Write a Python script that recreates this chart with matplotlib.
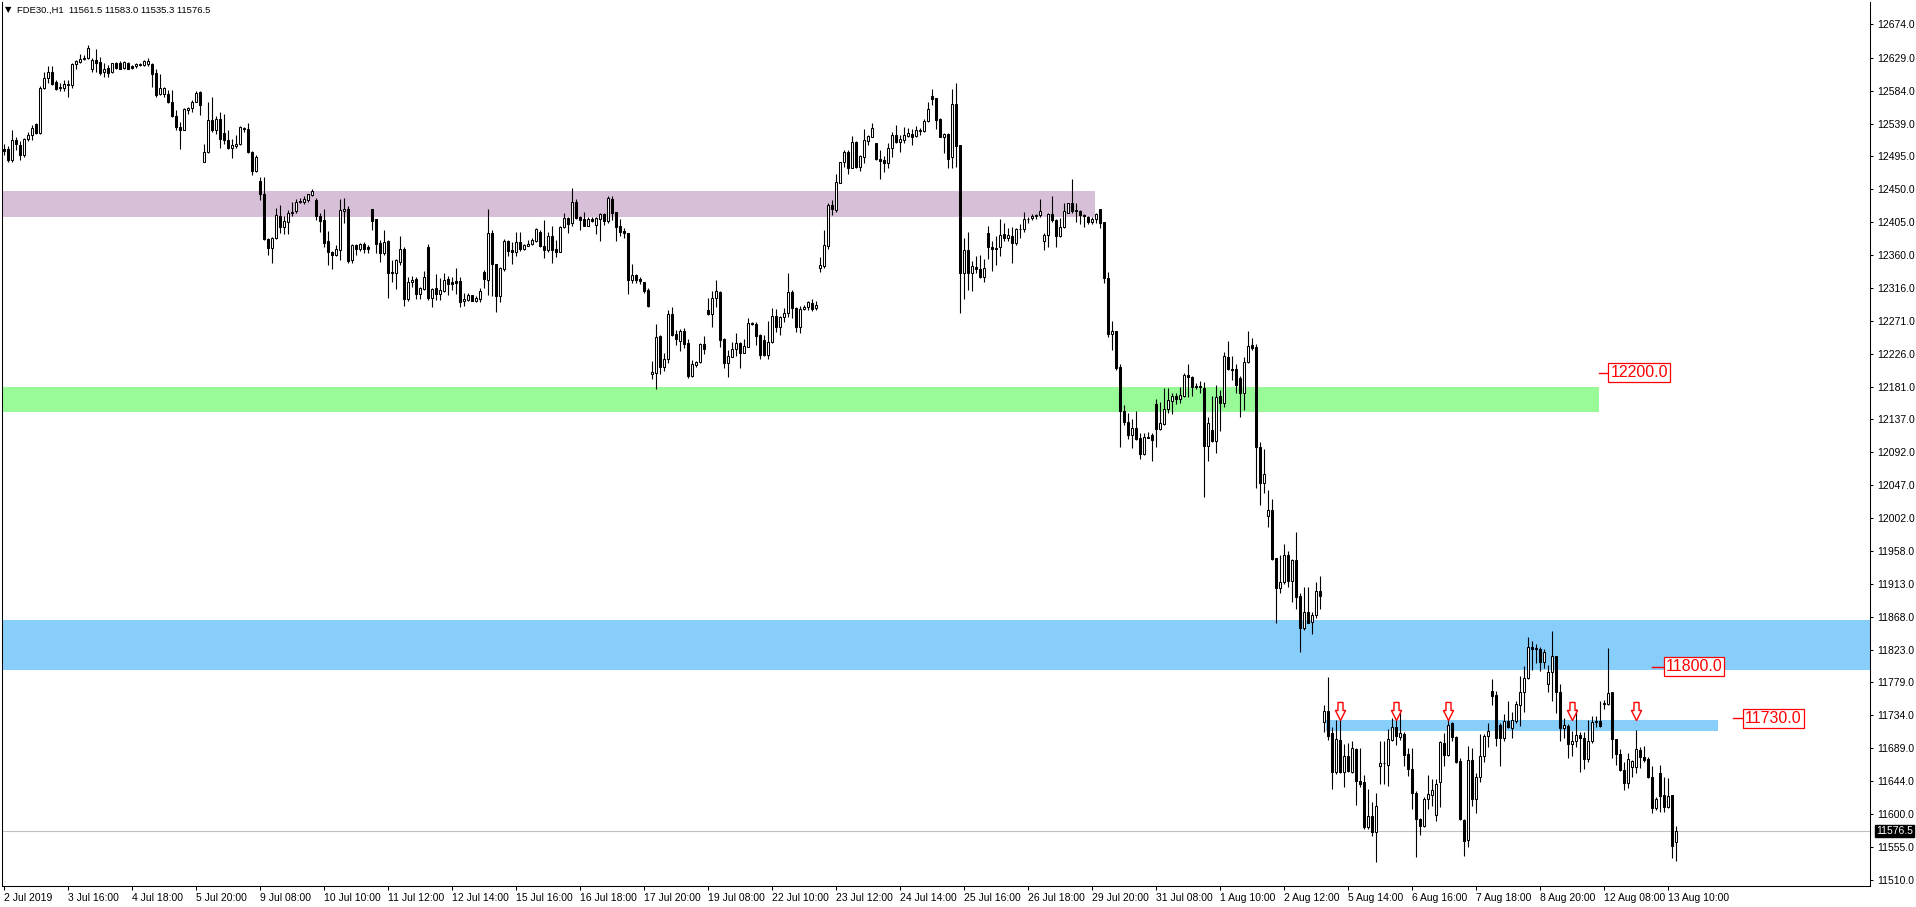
import numpy as np
import matplotlib.pyplot as plt
from matplotlib.path import Path
from matplotlib.patches import Rectangle
import matplotlib.transforms as mtransforms

# FDE30 H1 candles (2 Jul 14:00 .. 13 Aug 12:00)
opens = [
    12504, 12505, 12489, 12517, 12510, 12497, 12518, 12523, 12538, 12527,
    12588, 12601, 12609, 12596, 12589, 12588, 12591, 12591, 12620, 12623,
    12627, 12628, 12614, 12626, 12623, 12610, 12615, 12609, 12621, 12621,
    12615, 12622, 12617, 12617, 12619, 12619, 12620, 12620, 12608, 12579,
    12580, 12580, 12569, 12549, 12534, 12531, 12558, 12560, 12569, 12582,
    12487, 12500, 12544, 12530, 12545, 12526, 12517, 12506, 12509, 12512,
    12532, 12532, 12501, 12474, 12461, 12443, 12382, 12370, 12383, 12413,
    12399, 12405, 12419, 12420, 12434, 12432, 12435, 12442, 12435, 12413,
    12408, 12379, 12364, 12361, 12367, 12420, 12423, 12353, 12374, 12369,
    12376, 12371, 12423, 12409, 12377, 12363.5, 12380, 12337, 12336, 12351,
    12369, 12300.5, 12324, 12328, 12307, 12314, 12371, 12302, 12315, 12307,
    12312, 12327.7, 12323, 12324.5, 12324.5, 12298, 12299, 12306, 12298, 12301,
    12337, 12327, 12390, 12348, 12305, 12341, 12379, 12367, 12364, 12378.5,
    12368.5, 12373, 12375, 12380, 12391, 12372.6, 12367, 12386, 12368.5, 12365,
    12398, 12410.7, 12403.4, 12432, 12412, 12409, 12400, 12409, 12401, 12409,
    12415.7, 12407, 12436.5, 12418.4, 12400, 12393, 12390.7, 12326, 12333, 12327.3,
    12324, 12313, 12198, 12200.3, 12250.2, 12207.6, 12218.5, 12279.7, 12252.5, 12243.9,
    12257, 12240.2, 12196.2, 12210.8, 12214.4, 12238.9, 12285.6, 12279.7, 12301.5, 12310.5,
    12246.1, 12213.9, 12222.1, 12232.1, 12240.2, 12227.5, 12235.7, 12267.4, 12266.5, 12251.6,
    12244.8, 12224.4, 12241.6, 12277.4, 12262.9, 12275.6, 12281, 12309.6, 12287.9, 12262.9,
    12286.5, 12289.2, 12294.6, 12287.9, 12342.3, 12345.9, 12373.1, 12428.4, 12421.6, 12458.8,
    12486.5, 12501, 12479.2, 12514.6, 12480.6, 12494.2, 12516, 12521.4, 12512.3, 12491,
    12489.7, 12485.1, 12505.5, 12523.7, 12514.6, 12516.9, 12522.8, 12525, 12522.3, 12529.6,
    12529.6, 12542.7, 12576.7, 12573.5, 12545.4, 12521.4, 12525, 12493.3, 12565.8, 12510.1,
    12335.4, 12367.2, 12335.4, 12343.6, 12341.3, 12330.9, 12389.8, 12371.7, 12369.4, 12370.8,
    12388.5, 12383, 12386.2, 12377.1, 12395.3, 12395.3, 12408.9, 12410.2, 12413.4, 12414.3,
    12379.4, 12387.6, 12415.7, 12408, 12386.7, 12398, 12418, 12430.7, 12421.1, 12419.8,
    12414.3, 12411.6, 12404.8, 12408.9, 12422.5, 12405.7, 12329.5, 12252.9, 12256.9, 12208.4,
    12148.6, 12133.6, 12115.5, 12125.4, 12111.8, 12089.6, 12111.8, 12115.5, 12157.2, 12123.2,
    12130.4, 12150.4, 12162.2, 12168.5, 12164.9, 12168.5, 12197.1, 12194.8, 12182.1, 12182.1,
    12178.9, 12100.5, 12122.3, 12107.8, 12168.5, 12159.5, 12221.1, 12204.8, 12204.8, 12192.6,
    12173.1, 12214.3, 12237.9, 12235.6, 12099.6, 12050.6, 12005.7, 12013.4, 11947.7, 11906.9,
    11914.8, 11952.2, 11917.2, 11945.4, 11896.4, 11853.1, 11874.5, 11861.4, 11871.1, 11902.7,
    11725.3, 11739.9, 11709.3, 11657.3, 11701, 11657.3, 11678.2, 11657.3, 11687.9, 11645.1,
    11642.7, 11581.9, 11596.5, 11574.6, 11664.6, 11668.5, 11667, 11701, 11718, 11704.9,
    11708.3, 11681.6, 11660.7, 11628.1, 11592.6, 11582.9, 11619.9, 11625.7, 11598.9, 11642.7,
    11696.2, 11680.1, 11723.9, 11704.4, 11671.9, 11591.6, 11565, 11672.8, 11619.9, 11650,
    11679.2, 11705.9, 11766.6, 11761.7, 11720.5, 11702.5, 11726.8, 11717.1, 11726.8, 11748.2,
    11765.6, 11785.1, 11827.4, 11825.9, 11824.9, 11806.5, 11777.3, 11793.4, 11814.2, 11765.6,
    11717.1, 11719, 11694.7, 11698.6, 11707.3, 11703.5, 11674.3, 11698.6, 11725.3, 11726.3,
    11749.1, 11749.6, 11765.3, 11701.4, 11681, 11659.6, 11641.5, 11664.2, 11663.3, 11686.9,
    11677.8, 11674.2, 11650.6, 11607.5, 11655.1, 11625.6, 11609.8, 11625.6, 11561.5,
]
highs = [
    12512, 12508, 12530, 12521, 12515, 12520, 12528, 12537, 12540, 12590,
    12610, 12618, 12618, 12598, 12595, 12599, 12599, 12622, 12626, 12634,
    12632, 12646, 12628, 12641, 12630, 12621, 12619, 12622, 12623, 12625,
    12624, 12623, 12619, 12621, 12622, 12626, 12629, 12622, 12613, 12607,
    12589, 12585, 12585, 12558, 12542, 12560, 12562, 12571, 12584, 12583,
    12511, 12569, 12575, 12549, 12555, 12552, 12531, 12518, 12524, 12536,
    12535, 12540, 12502, 12497, 12467, 12467, 12383, 12385, 12424, 12428,
    12413, 12421, 12432, 12436, 12438, 12440, 12444, 12450, 12438, 12418,
    12422.5, 12393, 12366, 12374, 12436.5, 12437.5, 12427, 12376, 12376, 12377,
    12378.5, 12374, 12423, 12410, 12381, 12394.4, 12381, 12354, 12354.5, 12386,
    12371, 12331, 12332, 12330, 12317, 12338, 12375, 12315, 12334.5, 12329,
    12336, 12332, 12331, 12342, 12330, 12308, 12308, 12306, 12305, 12316,
    12340, 12422.5, 12395, 12348, 12343.6, 12381.7, 12381, 12378.5, 12392, 12392,
    12376, 12381, 12383, 12396.6, 12394, 12408, 12392, 12400, 12381, 12400,
    12417, 12412.5, 12451, 12436, 12413.4, 12418.4, 12412.5, 12412.5, 12412.5, 12417,
    12417, 12440, 12440.6, 12418.4, 12410, 12397.5, 12390.7, 12348, 12334.5, 12330,
    12324, 12315, 12216.2, 12266.5, 12251.6, 12227.5, 12285.6, 12289.2, 12258, 12260.2,
    12261.5, 12245.7, 12217.5, 12216.6, 12240.2, 12250.2, 12301.5, 12311.9, 12326.4, 12311.9,
    12247, 12231.2, 12242.5, 12253.9, 12242.5, 12245.7, 12274.2, 12268.8, 12269.7, 12252.5,
    12251.6, 12271.1, 12287.9, 12286.5, 12277.4, 12287.9, 12336.4, 12312.8, 12289.2, 12291,
    12292.4, 12298.3, 12300.1, 12298.3, 12358.1, 12394.4, 12430.7, 12435.2, 12470.6, 12487.4,
    12503.3, 12503.3, 12522.3, 12515.5, 12496.5, 12531.4, 12523.7, 12540.4, 12513.2, 12503.3,
    12495.1, 12512.3, 12528.2, 12537.3, 12523.7, 12535, 12532.7, 12531.4, 12535.9, 12532.7,
    12545, 12568.1, 12585.8, 12574.4, 12546.3, 12526.8, 12525.9, 12585.8, 12594, 12510.1,
    12383, 12392.1, 12352.6, 12359, 12360.4, 12354.5, 12399.8, 12379.9, 12386.2, 12408.9,
    12403.4, 12396.6, 12398, 12397.5, 12402.5, 12418.4, 12412.5, 12416.1, 12416.1, 12436.1,
    12389.8, 12418, 12440.6, 12409.3, 12410.2, 12430.7, 12431.6, 12463.3, 12430.7, 12421.6,
    12416.1, 12413.4, 12412.5, 12418, 12422.5, 12405.7, 12337.7, 12271, 12257.4, 12212.1,
    12156.3, 12144.9, 12136.8, 12148.6, 12117.7, 12117.7, 12120, 12117.7, 12164, 12160.8,
    12178.9, 12178.9, 12173.1, 12173.1, 12181.2, 12200.3, 12212.1, 12195.7, 12185.8, 12189.4,
    12188, 12140.4, 12168.5, 12183.5, 12176.7, 12228.8, 12243.4, 12222.9, 12212.1, 12195.7,
    12222, 12256.9, 12246.9, 12239.3, 12106.4, 12096.4, 12040.6, 12027.9, 11948.6, 11952.2,
    11966.8, 11957.1, 11947.4, 11982.8, 11900.2, 11908.5, 11908.5, 11874.5, 11914.8, 11923.1,
    11748.2, 11786.1, 11718, 11727.7, 11727.7, 11694.7, 11696.2, 11699.6, 11688.9, 11689.8,
    11652.4, 11634.4, 11616, 11628.1, 11699.6, 11698.6, 11715.6, 11730.2, 11738.4, 11738.4,
    11710.7, 11689.8, 11688.9, 11631.5, 11594.1, 11623.2, 11652.4, 11647.5, 11647.5, 11698.6,
    11709.3, 11733.6, 11725.3, 11705.9, 11675.3, 11592.6, 11692.3, 11688.9, 11655.8, 11708.3,
    11708.3, 11723.9, 11783.6, 11766.6, 11723.9, 11736.5, 11753, 11738.4, 11753, 11787,
    11800.7, 11840.5, 11834.6, 11830.8, 11827.4, 11824.9, 11803.1, 11849.2, 11815.2, 11776.3,
    11730.2, 11721.9, 11713.2, 11742.3, 11710.7, 11710.7, 11727.7, 11733.6, 11732.6, 11753,
    11754.5, 11825.9, 11766, 11701.4, 11687.8, 11671, 11682.3, 11673.2, 11714.1, 11691.4,
    11692.3, 11677.8, 11665.1, 11623.4, 11666.4, 11650.6, 11648.3, 11625.6, 11583.0,
]
lows = [
    12497, 12487, 12487, 12503, 12490, 12494, 12516, 12517, 12525, 12525,
    12586, 12594, 12592, 12585, 12583, 12583, 12576, 12587, 12613, 12621,
    12626, 12627, 12610, 12610, 12605, 12603, 12602, 12608, 12613, 12613,
    12613, 12613, 12613, 12615, 12618, 12618, 12618, 12589, 12576, 12578,
    12576, 12567, 12548, 12530, 12505, 12530, 12552, 12555, 12568, 12551,
    12487, 12499, 12528, 12525, 12506, 12512, 12505, 12493, 12506, 12510,
    12528, 12499, 12469, 12473, 12435, 12381, 12360, 12350, 12382, 12390,
    12389, 12389, 12413, 12417, 12431, 12430, 12433, 12440, 12408, 12392,
    12371.7, 12347, 12341, 12359, 12353.6, 12404, 12350, 12350, 12360, 12366,
    12362.6, 12363.5, 12394.4, 12363.5, 12351, 12360.4, 12302, 12323, 12314, 12347,
    12291.4, 12298, 12317, 12300, 12301, 12313, 12299, 12289, 12299, 12299,
    12310.5, 12306, 12313, 12307, 12289, 12291, 12298, 12298, 12297, 12297,
    12315, 12306, 12304.6, 12283, 12296, 12338, 12359, 12348, 12359, 12366,
    12367, 12372, 12374, 12378.5, 12371, 12356, 12365, 12350, 12358, 12364,
    12396.6, 12390, 12400, 12409, 12394.4, 12400, 12400, 12405.7, 12388.5, 12380,
    12401, 12404, 12408, 12380, 12386, 12384, 12307, 12322, 12322, 12320.4,
    12309, 12289, 12191.3, 12177.7, 12198.5, 12203.1, 12213.9, 12250.2, 12238, 12230.3,
    12233.4, 12192.6, 12194, 12208.5, 12213, 12225.7, 12278.8, 12262.9, 12289.2, 12235.7,
    12206.2, 12194.9, 12221.2, 12223, 12206.2, 12226.6, 12234.8, 12265.2, 12238, 12218.5,
    12223, 12218.5, 12240.2, 12256.1, 12251.6, 12269.7, 12275.6, 12274.2, 12256.1, 12253.9,
    12285.6, 12285.6, 12284.7, 12285.6, 12337.7, 12342.3, 12368.6, 12414.8, 12418.4, 12457.9,
    12480.6, 12470.6, 12478.3, 12478.3, 12475.1, 12486, 12510.1, 12520.5, 12489.7, 12463.4,
    12473.8, 12478.3, 12493.3, 12513.2, 12501, 12512.3, 12521.4, 12510.1, 12520.5, 12523.7,
    12528.2, 12541.8, 12564.5, 12531.4, 12521.4, 12499.6, 12479.2, 12479.2, 12480.6, 12282,
    12300, 12312.7, 12311.8, 12335.4, 12328.6, 12324.1, 12354.5, 12339, 12346.8, 12359,
    12379.9, 12379.9, 12349, 12374, 12383, 12392.1, 12403.4, 12408, 12408.9, 12411.6,
    12367.2, 12371.7, 12405.7, 12371.7, 12384.4, 12396.6, 12417, 12417, 12405.7, 12402.5,
    12398, 12402.5, 12402.5, 12403.4, 12396.6, 12321.8, 12249.2, 12231.1, 12203.9, 12099.6,
    12129.1, 12109.6, 12097.3, 12108.7, 12082.4, 12088.3, 12110.9, 12080.5, 12098.7, 12122.3,
    12129.1, 12145.9, 12144, 12157.6, 12158.5, 12167.6, 12167.6, 12168.5, 12177.6, 12173.1,
    12031.6, 12080.5, 12106.4, 12091.4, 12121.4, 12154, 12203.9, 12190.3, 12173.1, 12140.4,
    12149.5, 12213, 12231.1, 12042.9, 12020.2, 12037, 11989.8, 11945.4, 11860.2, 11901,
    11912.4, 11908.5, 11888.1, 11879.3, 11820.1, 11850.2, 11859, 11845.3, 11866.3, 11879.3,
    11710.7, 11701, 11634.4, 11654.8, 11655.8, 11636.4, 11657.3, 11655.8, 11612.1, 11636.4,
    11579.5, 11579.5, 11569.8, 11534.3, 11641.2, 11640.2, 11637.8, 11699.6, 11693.7, 11701,
    11665.5, 11650.9, 11607.2, 11541.7, 11570.8, 11581.9, 11607.2, 11611.1, 11590.7, 11608.7,
    11665.5, 11678.2, 11698.6, 11669.4, 11591.6, 11542.1, 11555.3, 11611.1, 11601.4, 11642.7,
    11670.4, 11691.3, 11748.2, 11692.8, 11665.5, 11698.6, 11717.1, 11702.5, 11723.9, 11719,
    11738.4, 11783.6, 11795.8, 11805.5, 11794.8, 11798.2, 11765.6, 11753, 11737.5, 11699.6,
    11703.5, 11675.3, 11678.2, 11691.3, 11657.3, 11660.7, 11670.4, 11696.2, 11718, 11718,
    11743.3, 11748.2, 11675.5, 11666.4, 11658.3, 11632.4, 11634.7, 11650.6, 11655.1, 11661.9,
    11671, 11648.3, 11601.6, 11605.2, 11603, 11603, 11607.5, 11539.5, 11535.3,
]
closes = [
    12502, 12489, 12517, 12511, 12497, 12518, 12524, 12533, 12527, 12588,
    12601, 12609, 12593, 12586, 12587, 12593, 12593, 12620, 12624, 12627,
    12628, 12642, 12626, 12622, 12608, 12614, 12608, 12621, 12615, 12614,
    12623, 12614, 12615, 12620, 12620, 12624, 12624, 12606, 12578, 12588,
    12587, 12569, 12549, 12535, 12531, 12559, 12560, 12569, 12581, 12564,
    12500, 12544, 12531, 12545, 12518, 12517, 12506, 12510, 12512, 12534,
    12533, 12500, 12474, 12494, 12443, 12382, 12370, 12383, 12415, 12399,
    12406, 12418, 12418, 12433, 12432, 12436, 12443, 12448, 12413, 12407,
    12377, 12364, 12361, 12368.5, 12421.6, 12423, 12352, 12374, 12369, 12376,
    12368.5, 12369, 12406.6, 12375, 12363.5, 12378.5, 12336, 12336, 12353, 12369,
    12300.5, 12323, 12327, 12307, 12315, 12330, 12302, 12314, 12307, 12313,
    12326, 12321, 12321, 12322, 12297, 12301, 12306, 12298, 12302, 12312,
    12328, 12390, 12348, 12305, 12342, 12379, 12366, 12364, 12378.5, 12368.5,
    12374, 12376, 12381, 12396, 12372, 12367, 12386, 12367, 12365, 12398,
    12410.7, 12402.5, 12432, 12411, 12408.4, 12400, 12409, 12407, 12411, 12415.7,
    12407, 12437.5, 12418, 12399, 12392, 12390, 12326.3, 12332.7, 12327, 12325,
    12312, 12291.5, 12200.8, 12248.4, 12208.5, 12218.5, 12279.7, 12251.6, 12245.7, 12257,
    12239.3, 12196.2, 12211.7, 12214.4, 12238.9, 12232.5, 12279.7, 12301.5, 12311.4, 12244.8,
    12213.9, 12223, 12232.1, 12240.2, 12227.5, 12236.6, 12267.4, 12266.1, 12250.7, 12224.4,
    12224.4, 12241.6, 12277.4, 12262, 12276.5, 12281, 12309.6, 12287.9, 12262.9, 12286.5,
    12289.2, 12296, 12286.9, 12292.4, 12346.8, 12374, 12428.4, 12422.5, 12459.3, 12486.5,
    12501, 12478.3, 12513.7, 12480.6, 12495.1, 12516.9, 12522.3, 12532.7, 12490.6, 12488.7,
    12485.1, 12505.5, 12523.7, 12514.6, 12518.2, 12523.7, 12526.8, 12521.4, 12530.5, 12530.5,
    12542.7, 12558.6, 12573.1, 12544.1, 12521.4, 12525, 12491, 12565.8, 12508.7, 12335.5,
    12367.2, 12335.4, 12345.4, 12340.9, 12330.9, 12342.2, 12371.7, 12368.1, 12368.1, 12387.6,
    12383, 12387.6, 12377.1, 12395.3, 12396.2, 12408.9, 12409.8, 12413.4, 12414.3, 12419.8,
    12387.6, 12415.7, 12408, 12386.7, 12398, 12419.8, 12430.7, 12420.7, 12419.8, 12414.3,
    12413.4, 12404.8, 12408.9, 12415.7, 12404.3, 12329.5, 12252.9, 12256.9, 12206.2, 12148.6,
    12132.7, 12115.5, 12124.5, 12110, 12089.6, 12112.3, 12113.2, 12108.7, 12123.2, 12131.3,
    12150.8, 12163.1, 12168.5, 12164, 12169.4, 12197.1, 12193.9, 12180.3, 12180.3, 12180.3,
    12100.5, 12131.3, 12107.8, 12167.6, 12159.5, 12222.9, 12204.8, 12203.9, 12183.5, 12173.1,
    12214.3, 12236.5, 12233.4, 12098.7, 12050.6, 12062.4, 12013.4, 11946.3, 11906.9, 11915,
    11952.2, 11917.2, 11945.4, 11895.4, 11853.1, 11874.5, 11859.9, 11871.1, 11902.7, 11896.8,
    11739.9, 11705.9, 11657.3, 11702, 11657.3, 11678.2, 11658.7, 11689.8, 11645.1, 11641.2,
    11581.9, 11596.5, 11574.6, 11611.1, 11668.5, 11669.4, 11702, 11718, 11705.9, 11709.3,
    11680.1, 11660.7, 11628.1, 11592.6, 11582.9, 11619.9, 11626.6, 11633, 11641.2, 11697.1,
    11680.1, 11721.4, 11704.4, 11670.4, 11592.6, 11563.5, 11672.8, 11619.9, 11650, 11679.2,
    11705.9, 11712.2, 11760.8, 11703.5, 11702.5, 11726.8, 11718, 11727.7, 11749.6, 11765.6,
    11785.1, 11827.4, 11824.9, 11824, 11806.5, 11820.1, 11793.4, 11814.2, 11765.6, 11717.1,
    11720.5, 11694.7, 11698.6, 11706.9, 11702.5, 11674.3, 11699.6, 11725.3, 11726.3, 11719,
    11751.1, 11764.2, 11701.4, 11681, 11659.6, 11641.5, 11674.2, 11672.3, 11687.8, 11676.9,
    11673.2, 11650.6, 11607.5, 11619.7, 11624.3, 11609.8, 11624.3, 11556.7, 11576.5,
]

# time axis labels, one every 16 bars
time_labels = [
    "2 Jul 2019", "3 Jul 16:00", "4 Jul 18:00", "5 Jul 20:00", "9 Jul 08:00",
    "10 Jul 10:00", "11 Jul 12:00", "12 Jul 14:00", "15 Jul 16:00", "16 Jul 18:00",
    "17 Jul 20:00", "19 Jul 08:00", "22 Jul 10:00", "23 Jul 12:00", "24 Jul 14:00",
    "25 Jul 16:00", "26 Jul 18:00", "29 Jul 20:00", "31 Jul 08:00", "1 Aug 10:00",
    "2 Aug 12:00", "5 Aug 14:00", "6 Aug 16:00", "7 Aug 18:00", "8 Aug 20:00",
    "12 Aug 08:00", "13 Aug 10:00",
]
price_labels = [
    "12674.0", "12629.0", "12584.0", "12539.0", "12495.0", "12450.0", "12405.0",
    "12360.0", "12316.0", "12271.0", "12226.0", "12181.0", "12137.0", "12092.0",
    "12047.0", "12002.0", "11958.0", "11913.0", "11868.0", "11823.0", "11779.0",
    "11734.0", "11689.0", "11644.0", "11600.0", "11555.0", "11510.0",
]

# drawn zones: (first bar, last bar, low, high, colour)
zones = [
    (-0.6, 272.85, 12412.5, 12447.5, "#D8BFD8"),
    (-0.6, 398.85, 12147.2, 12180.3, "#98FB98"),
    (-0.6, 470.0, 11795.8, 11863.8, "#87CEFA"),
    (330.7, 428.6, 11713.2, 11727.7, "#87CEFA"),
]
# price labels with leader line: (price, line start bar, label start bar)
level_marks = [(12200.0, 398.85, 401.1), (11800.0, 412.1, 414.9), (11730.0, 432.3, 434.8)]
arrow_bars = [334, 348, 361, 392, 408]
arrow_price = 11740.0
last_price = 11576.5

plt.rcParams["font.family"] = ["Liberation Sans", "DejaVu Sans"]

W, H = 1916, 907
fig = plt.figure(figsize=(W / 100, H / 100), dpi=100)
ax = fig.add_axes([1.5 / W, (H - 886) / H, (1870 - 1.5) / W, (886 - 2) / H])

for x0, x1, lo, hi, col in zones:
    ax.add_patch(Rectangle((x0, lo), x1 - x0, hi - lo, facecolor=col, edgecolor="none", zorder=0))

ax.axhline(last_price, color="#C0C0C0", lw=0.8, zorder=1)

o = np.array(opens, dtype=float)
h = np.array(highs, dtype=float)
l = np.array(lows, dtype=float)
c = np.array(closes, dtype=float)
x = np.arange(len(o))
up = c >= o

ax.vlines(x, l, h, color="black", lw=0.8, zorder=2)
ax.bar(x, c - o, bottom=o, width=0.5, color=np.where(up, "white", "black"),
       edgecolor="black", linewidth=0.75, zorder=3)

# red hollow down arrows
arrow = Path([(-0.25, 0.9), (0.25, 0.9), (0.25, 0.1), (0.5, 0.1), (0.0, -0.9),
              (-0.5, 0.1), (-0.25, 0.1), (-0.25, 0.9)],
             [Path.MOVETO] + [Path.LINETO] * 6 + [Path.CLOSEPOLY])
ax.scatter(arrow_bars, [arrow_price] * len(arrow_bars), marker=arrow, s=13 ** 2,
           facecolor="white", edgecolor="red", linewidth=1.0, zorder=5)

for price, xa, xb in level_marks:
    ax.plot([xa, xb], [price, price], color="red", lw=1, zorder=5)
    ax.text(xb + 0.6, price, f"{price:.1f}", color="red", fontsize=11.5, ha="left", va="center",
            bbox=dict(boxstyle="square,pad=0.12", fc="white", ec="red", lw=0.9), zorder=6)

ax.set_xlim(-0.525, 466.6)
ax.set_ylim(11501.8, 12704.6)

ax.set_xticks(np.arange(len(time_labels)) * 16)
ax.set_xticklabels(time_labels)
for t in ax.get_xticklabels():
    t.set_ha("left")
ax.set_yticks([float(s) for s in price_labels])
ax.set_yticklabels(price_labels)
ax.yaxis.tick_right()
ax.tick_params(axis="y", direction="out", length=2.5, width=0.75, pad=3, labelsize=7.5)
ax.tick_params(axis="x", direction="out", length=3, width=0.75, pad=2, labelsize=7.5)
for s in ["left", "bottom", "right"]:
    ax.spines[s].set_linewidth(0.75)
ax.spines["top"].set_visible(False)

# current price on the axis
trans = mtransforms.blended_transform_factory(ax.transAxes, ax.transData)
ax.text(1.0 + 6 / 1868.5, last_price, f"{last_price:.1f}", transform=trans, color="white",
        fontsize=7.5, ha="left", va="center", clip_on=False,
        bbox=dict(boxstyle="square,pad=0.1", fc="black", ec="black"), zorder=7)

# header
fig.text(5 / W, 1 - 10 / H, "\u25bc", fontsize=6, family="DejaVu Sans", va="center", ha="left")
fig.text(17 / W, 1 - 10 / H, "FDE30.,H1  11561.5 11583.0 11535.3 11576.5",
         fontsize=6.8, va="center", ha="left")

fig.savefig("out.png", dpi=100)
